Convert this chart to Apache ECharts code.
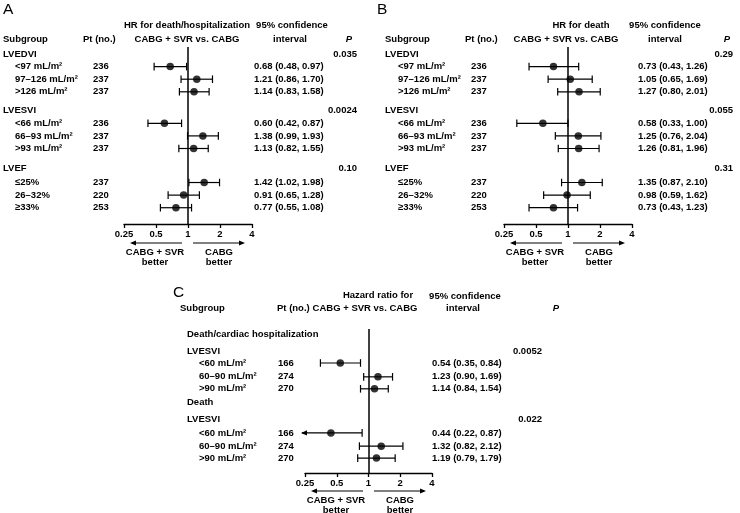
<!DOCTYPE html>
<html><head><meta charset="utf-8">
<script src="https://cdn.jsdelivr.net/npm/echarts/dist/echarts.min.js"></script>
<style>html,body{margin:0;padding:0;background:#fff}#c{width:740px;height:513px}</style>
</head><body><div id="c"></div><script>
// ---------- DATA ----------
const groupsAB = ['LVEDVI', 'LVESVI', 'LVEF'];
const subgroupsAB = ['<97 mL/m²', '97–126 mL/m²', '>126 mL/m²', '<66 mL/m²', '66–93 mL/m²', '>93 mL/m²', '≤25%', '26–32%', '≥33%'];
const ptAB = [236, 237, 237, 236, 237, 237, 237, 220, 253];
const hrA = [0.68, 1.21, 1.14, 0.60, 1.38, 1.13, 1.42, 0.91, 0.77];
const loA = [0.48, 0.86, 0.83, 0.42, 0.99, 0.82, 1.02, 0.65, 0.55];
const hiA = [0.97, 1.70, 1.58, 0.87, 1.93, 1.55, 1.98, 1.28, 1.08];
const pA = ['0.035', '0.0024', '0.10'];
const hrB = [0.73, 1.05, 1.27, 0.58, 1.25, 1.26, 1.35, 0.98, 0.73];
const loB = [0.43, 0.65, 0.80, 0.33, 0.76, 0.81, 0.87, 0.59, 0.43];
const hiB = [1.26, 1.69, 2.01, 1.00, 2.04, 1.96, 2.10, 1.62, 1.23];
const pB = ['0.29', '0.055', '0.31'];
const outcomesC = ['Death/cardiac hospitalization', 'Death'];
const groupsC = ['LVESVI', 'LVESVI'];
const subgroupsC = ['<60 mL/m²', '60–90 mL/m²', '>90 mL/m²', '<60 mL/m²', '60–90 mL/m²', '>90 mL/m²'];
const ptC = [166, 274, 270, 166, 274, 270];
const hrC = [0.54, 1.23, 1.14, 0.44, 1.32, 1.19];
const loC = [0.35, 0.90, 0.84, 0.22, 0.82, 0.79];
const hiC = [0.84, 1.69, 1.54, 0.87, 2.12, 1.79];
const pC = ['0.0052', '0.022'];
const axisTicks = [0.25, 0.5, 1, 2, 4];

// ---------- LAYOUT ----------
const FONT = '"Liberation Sans", Arial, Helvetica, sans-serif';
const FS = 9.5;
const BF = 'bold ' + FS + 'px ' + FONT;
const L = {
  unit: 12.6,
  ab: {base: 54, top: 47, bottom: 224},
  c: {base: 334, top: 329, bottom: 473},
  rowsAB: {group: [0, 4.5, 9.1], sub: [1, 2, 3, 5.5, 6.5, 7.5, 10.2, 11.2, 12.2]},
  rowsC: {outcome: [0, 5.45], group: [1.4, 6.75], sub: [2.3, 3.4, 4.35, 7.85, 8.9, 9.85]},
  forestA: {left: 124, width: 128},
  forestB: {left: 504, width: 128},
  forestC: {left: 305, width: 127},
  colsA: {group: 3, sub: 15, pt: 93, ci: 254, p: 357},
  colsB: {group: 385, sub: 398, pt: 471, ci: 638, p: 733},
  colsC: {outcome: 187, group: 187, sub: 199, pt: 278, ci: 432, p: 542}
};
function yr(s) { return {min: (s.top - s.base) / L.unit, max: (s.bottom - s.base) / L.unit}; }
const yAB = yr(L.ab), yC = yr(L.c);

const f2 = v => v.toFixed(2);
const ciText = (h, l, u) => f2(h) + ' (' + f2(l) + ', ' + f2(u) + ')';

// ---------- TEXT ROWS ----------
const textAB = [];
function addAB(cols, hr, lo, hi, pv) {
  groupsAB.forEach((g, i) => {
    textAB.push({x: cols.group, y: L.rowsAB.group[i], t: g, a: 'left'});
    textAB.push({x: cols.p, y: L.rowsAB.group[i], t: pv[i], a: 'right'});
  });
  subgroupsAB.forEach((s, i) => {
    const y = L.rowsAB.sub[i];
    textAB.push({x: cols.sub, y, t: s, a: 'left'});
    textAB.push({x: cols.pt, y, t: String(ptAB[i]), a: 'left'});
    textAB.push({x: cols.ci, y, t: ciText(hr[i], lo[i], hi[i]), a: 'left'});
  });
}
addAB(L.colsA, hrA, loA, hiA, pA);
addAB(L.colsB, hrB, loB, hiB, pB);

const textC = [];
outcomesC.forEach((o, i) => textC.push({x: L.colsC.outcome, y: L.rowsC.outcome[i], t: o, a: 'left'}));
groupsC.forEach((g, i) => {
  textC.push({x: L.colsC.group, y: L.rowsC.group[i], t: g, a: 'left'});
  textC.push({x: L.colsC.p, y: L.rowsC.group[i], t: pC[i], a: 'right'});
});
subgroupsC.forEach((s, i) => {
  const y = L.rowsC.sub[i];
  textC.push({x: L.colsC.sub, y, t: s, a: 'left'});
  textC.push({x: L.colsC.pt, y, t: String(ptC[i]), a: 'left'});
  textC.push({x: L.colsC.ci, y, t: ciText(hrC[i], loC[i], hiC[i]), a: 'left'});
});

function textSeries(arr, xi, yi) {
  return {
    type: 'custom', xAxisIndex: xi, yAxisIndex: yi, silent: true, clip: false,
    data: arr.map(d => [d.x, d.y]),
    encode: {x: 0, y: 1},
    renderItem: (params, api) => {
      const d = arr[params.dataIndex];
      const p = api.coord([d.x, d.y]);
      return {type: 'text', x: p[0], y: p[1],
        style: {text: d.t, font: BF, fill: '#000', align: d.a, verticalAlign: 'middle'}};
    }
  };
}

const AXMIN = axisTicks[0];
function errSeries(hr, lo, hi, rows, idx) {
  return {
    type: 'custom', xAxisIndex: idx, yAxisIndex: idx, silent: true, clip: false,
    data: hr.map((h, i) => [h, lo[i], hi[i], rows[i]]),
    encode: {x: [0, 1, 2], y: 3},
    renderItem: (params, api) => {
      const lo = api.value(1), hi = api.value(2), y = api.value(3);
      const trunc = lo < AXMIN;
      const a = api.coord([trunc ? AXMIN : lo, y]);
      const b = api.coord([hi, y]);
      if (trunc) a[0] -= 3;
      const st = {stroke: '#000', lineWidth: 1.2};
      const cap = 3.8;
      const ch = [{type: 'line', shape: {x1: a[0], y1: a[1], x2: b[0], y2: b[1]}, style: st},
                  {type: 'line', shape: {x1: b[0], y1: b[1] - cap, x2: b[0], y2: b[1] + cap}, style: st}];
      if (trunc) {
        ch.push({type: 'polygon', shape: {points: [[a[0] - 1, a[1]], [a[0] + 5, a[1] - 2.6], [a[0] + 5, a[1] + 2.6]]}, style: {fill: '#000'}});
      } else {
        ch.push({type: 'line', shape: {x1: a[0], y1: a[1] - cap, x2: a[0], y2: a[1] + cap}, style: st});
      }
      return {type: 'group', children: ch};
    }
  };
}
function ptSeries(hr, rows, idx) {
  return {
    type: 'scatter', xAxisIndex: idx, yAxisIndex: idx, silent: true,
    data: hr.map((h, i) => [h, rows[i]]),
    symbol: 'circle', symbolSize: 7.5, itemStyle: {color: '#000'},
    markLine: {silent: true, symbol: ['none', 'none'], label: {show: false},
      lineStyle: {color: '#000', width: 1.5, type: 'solid'}, data: [{xAxis: 1}]}
  };
}

function logAxis(gi) {
  return {
    type: 'log', logBase: 2, min: AXMIN, max: axisTicks[axisTicks.length - 1], gridIndex: gi,
    position: 'bottom',
    axisLine: {show: true, onZero: false, lineStyle: {color: '#000', width: 1.3}},
    axisTick: {show: true, length: 4, lineStyle: {color: '#000', width: 1.3}},
    axisLabel: {color: '#000', fontWeight: 'bold', fontSize: FS, fontFamily: FONT, margin: 5,
      formatter: v => String(+(+v).toPrecision(3))},
    splitLine: {show: false}
  };
}
function hidX(gi) { return {type: 'value', min: 0, max: 740, gridIndex: gi, show: false}; }
function hidY(gi, r) { return {type: 'value', inverse: true, min: r.min, max: r.max, gridIndex: gi, show: false}; }

// ---------- HEADERS / ANNOTATIONS ----------
const g = [];
function txt(t, x, y, align, font) {
  g.push({type: 'text', x, y, silent: true, style: {text: t, font: font || BF, fill: '#000', align, verticalAlign: 'middle'}});
}
const LETTER = 'normal 15.5px ' + FONT;
const PF = 'italic bold ' + FS + 'px ' + FONT;
// A
txt('A', 3, 10, 'left', LETTER);
txt('HR for death/hospitalization', 187, 25, 'center');
txt('CABG + SVR vs. CABG', 187, 39, 'center');
txt('Subgroup', 3, 39, 'left');
txt('Pt (no.)', 83, 39, 'left');
txt('95% confidence', 292, 25, 'center');
txt('interval', 290, 39, 'center');
txt('P', 349, 39, 'center', PF);
// B
txt('B', 377, 10, 'left', LETTER);
txt('HR for death', 581, 25, 'center');
txt('CABG + SVR vs. CABG', 566, 39, 'center');
txt('Subgroup', 385, 39, 'left');
txt('Pt (no.)', 465, 39, 'left');
txt('95% confidence', 665, 25, 'center');
txt('interval', 665, 39, 'center');
txt('P', 727, 39, 'center', PF);
// C
txt('C', 173, 293, 'left', LETTER);
txt('Hazard ratio for', 378, 295, 'center');
txt('CABG + SVR vs. CABG', 365, 308, 'center');
txt('Subgroup', 180, 308, 'left');
txt('Pt (no.)', 277, 308, 'left');
txt('95% confidence', 465, 296, 'center');
txt('interval', 463, 308, 'center');
txt('P', 556, 308, 'center', PF);

function arrows(cx, y) {
  const st = {stroke: '#000', lineWidth: 1};
  g.push({type: 'line', silent: true, shape: {x1: cx - 56, y1: y, x2: cx - 6, y2: y}, style: st});
  g.push({type: 'polygon', silent: true, shape: {points: [[cx - 58, y], [cx - 52, y - 2.5], [cx - 52, y + 2.5]]}, style: {fill: '#000'}});
  g.push({type: 'line', silent: true, shape: {x1: cx + 5, y1: y, x2: cx + 55, y2: y}, style: st});
  g.push({type: 'polygon', silent: true, shape: {points: [[cx + 57, y], [cx + 51, y - 2.5], [cx + 51, y + 2.5]]}, style: {fill: '#000'}});
  txt('CABG + SVR', cx - 33, y + 9.5, 'center');
  txt('better', cx - 33, y + 19, 'center');
  txt('CABG', cx + 31, y + 9.5, 'center');
  txt('better', cx + 31, y + 19, 'center');
}
arrows(188, 243);
arrows(568, 243);
arrows(369, 491);

const grids = [
  {left: L.forestA.left, width: L.forestA.width, top: L.ab.top, height: L.ab.bottom - L.ab.top},
  {left: L.forestB.left, width: L.forestB.width, top: L.ab.top, height: L.ab.bottom - L.ab.top},
  {left: L.forestC.left, width: L.forestC.width, top: L.c.top, height: L.c.bottom - L.c.top},
  {left: 0, width: 740, top: L.ab.top, height: L.ab.bottom - L.ab.top},
  {left: 0, width: 740, top: L.c.top, height: L.c.bottom - L.c.top}
];

const chart = echarts.init(document.getElementById('c'), null, {renderer: 'canvas'});
chart.setOption({
  animation: false,
  backgroundColor: '#fff',
  grid: grids,
  xAxis: [logAxis(0), logAxis(1), logAxis(2), hidX(3), hidX(4)],
  yAxis: [hidY(0, yAB), hidY(1, yAB), hidY(2, yC), hidY(3, yAB), hidY(4, yC)],
  series: [
    errSeries(hrA, loA, hiA, L.rowsAB.sub, 0), ptSeries(hrA, L.rowsAB.sub, 0),
    errSeries(hrB, loB, hiB, L.rowsAB.sub, 1), ptSeries(hrB, L.rowsAB.sub, 1),
    errSeries(hrC, loC, hiC, L.rowsC.sub, 2), ptSeries(hrC, L.rowsC.sub, 2),
    textSeries(textAB, 3, 3),
    textSeries(textC, 4, 4)
  ],
  graphic: g
});
</script></body></html>
